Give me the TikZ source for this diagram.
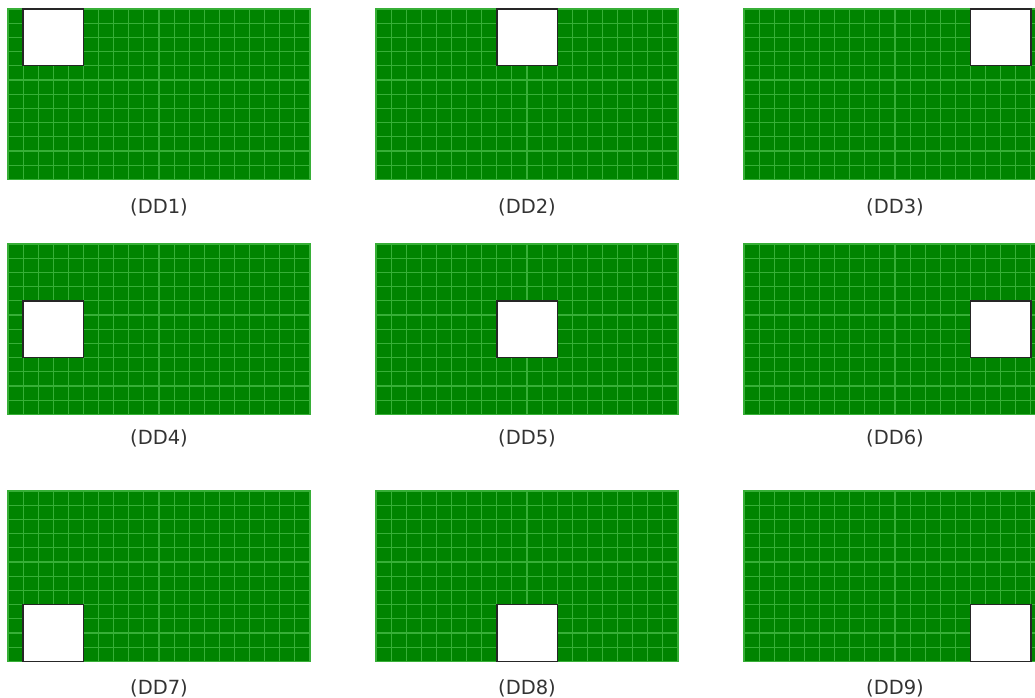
\documentclass[tikz,border=0pt]{standalone}
\usepackage{fontspec}
\setmainfont{DejaVu Sans}
\usepackage{xcolor}
\usepackage{tikz}
\usetikzlibrary{positioning}
\definecolor{leaf}{RGB}{0,132,0}
\definecolor{vein}{RGB}{55,175,55}

\begin{document}
\begin{tikzpicture}[x=1pt,y=-1pt,
  vein/.style={draw=vein,line width=1.1pt},
  hole/.style={fill=white,draw=black!85,line width=1.4pt},
  tag/.style={font=\fontsize{19.5}{24}\selectfont,text=black!80}]
\useasboundingbox (0,0) rectangle (1035,698);
\clip (0,0) rectangle (1035,698);
% nine boards, 20x12 cells each, one 4x4 hole
\foreach \r/\y/\ty in {0/9/207,1/244/438,2/491/688}{
 \foreach \c/\x in {0/8,1/376,2/744}{
  \pgfmathtruncatemacro{\k}{3*\r+\c+1}
  \fill[leaf](\x,\y)rectangle(\x+302,\y+170.4);
  \foreach \i in {1,...,19}
   \draw[vein](\x+15.1*\i,\y)--(\x+15.1*\i,\y+170.4);
  \foreach \j in {1,...,11}
   \draw[vein](\x,\y+14.2*\j)--(\x+302,\y+14.2*\j);
  \draw[vein](\x,\y)rectangle(\x+302,\y+170.4);
  \draw[hole](\x+15.1+105.7*\c,\y+56.8*\r)rectangle(\x+75.5+105.7*\c,\y+56.8+56.8*\r);
  \node[tag](dd\k)at(\x+151,\ty){(DD\k)};
 }}
\end{tikzpicture}
\end{document}
